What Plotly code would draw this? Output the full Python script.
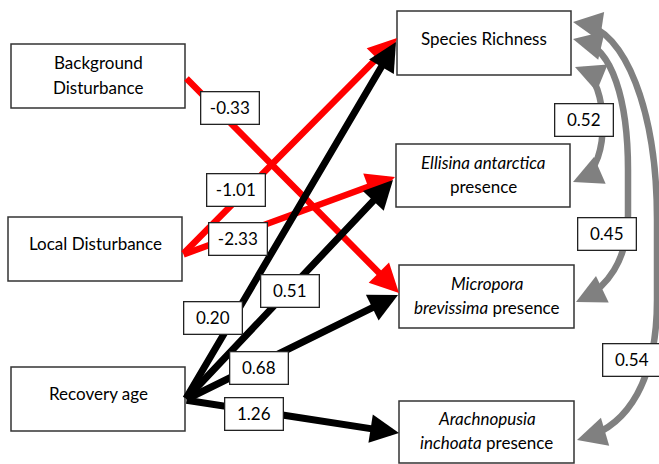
import math
import plotly.graph_objects as go

# ---------------- data ----------------
node_names = ["Background Disturbance", "Local Disturbance", "Recovery age",
              "Species Richness", "Ellisina", "Micropora", "Arachnopusia"]
node_text_lines = [
    ["Background", "Disturbance"],
    ["Local Disturbance"],
    ["Recovery age"],
    ["Species Richness"],
    ["<i>Ellisina antarctica</i>", "presence"],
    ["<i>Micropora</i>", "<i>brevissima</i> presence"],
    ["<i>Arachnopusia</i>", "<i>inchoata</i> presence"],
]
path_from = ["Background Disturbance", "Local Disturbance", "Local Disturbance",
             "Recovery age", "Recovery age", "Recovery age", "Recovery age"]
path_to = ["Micropora", "Species Richness", "Ellisina",
           "Species Richness", "Ellisina", "Micropora", "Arachnopusia"]
path_coef = [-0.33, -1.01, -2.33, 0.20, 0.51, 0.68, 1.26]
cov_from = ["Species Richness", "Species Richness", "Species Richness"]
cov_to = ["Ellisina", "Micropora", "Arachnopusia"]
cov_values = [0.52, 0.45, 0.54]

# ---------------- layout (pixel space) ----------------
W, H = 659, 464
node_box = {  # x0, y0, x1, y1
    "Background Disturbance": (11, 44, 185, 108),
    "Local Disturbance": (8, 217, 182, 281),
    "Recovery age": (11, 367, 185, 431),
    "Species Richness": (397, 11, 571, 75),
    "Ellisina": (396, 144, 570, 207),
    "Micropora": (399, 265, 574, 328),
    "Arachnopusia": (399, 401, 574, 463),
}
node_line_y = {
    "Background Disturbance": [62, 87],
    "Local Disturbance": [243],
    "Recovery age": [393],
    "Species Richness": [38],
    "Ellisina": [162, 186],
    "Micropora": [283, 307],
    "Arachnopusia": [418, 442],
}
# straight path geometry: start, tip, label centre
path_geom = [
    ((185, 77), (399, 293), (230, 108)),
    ((182, 255), (397, 38), (236, 190)),
    ((182, 255), (395, 177), (238, 239)),
    ((185, 400), (396, 42), (213, 318)),
    ((185, 400), (393, 180), (290, 291)),
    ((185, 400), (398, 295), (259, 368)),
    ((185, 400), (399, 433), (254, 414)),
]
# curved covariance geometry: start point + cubic segments, label centre
cov_geom = [
    ([(575, 67), (607, 80), (612, 165), (573, 182)], (584, 120)),
    ([(573, 39), (612, 48), (628, 100), (628, 170),
      (628, 185), (628, 200), (628, 215),
      (628, 262), (605, 288), (576, 302)], (607, 234)),
    ([(573, 22), (625, 30), (657, 110), (657, 220),
      (657, 250), (657, 275), (657, 300),
      (657, 380), (628, 425), (577, 440)], (632, 360)),
]

FONT = "Lato, 'Open Sans', sans-serif"
RED, BLACK, GREY = "#ff0000", "#000000", "#808080"

fig = go.Figure()
shapes, annotations = [], []

# node boxes + text
for name, lines in zip(node_names, node_text_lines):
    x0, y0, x1, y1 = node_box[name]
    shapes.append(dict(type="rect", xref="x", yref="y", x0=x0, y0=y0, x1=x1, y1=y1,
                       line=dict(color="#333333", width=1.5), fillcolor="white", layer="below"))
    for txt, ly in zip(lines, node_line_y[name]):
        annotations.append(dict(x=(x0 + x1) / 2, y=ly, xref="x", yref="y", text=txt,
                                showarrow=False, font=dict(family=FONT, size=17, color="black"),
                                xanchor="center", yanchor="middle"))

def unit(a, b):
    dx, dy = a[0] - b[0], a[1] - b[1]
    d = math.hypot(dx, dy)
    return dx / d, dy / d

# covariance curves
for pts, lab in cov_geom:
    p0, p1 = pts[0], pts[1]
    pe, pc = pts[-1], pts[-2]
    u0 = unit(p1, p0)
    ue = unit(pc, pe)
    s = (p0[0] + 9 * u0[0], p0[1] + 9 * u0[1])
    e = (pe[0] + 9 * ue[0], pe[1] + 9 * ue[1])
    allpts = pts[1:-1] + [e]
    path = f"M {s[0]:.1f},{s[1]:.1f}"
    for i in range(0, len(allpts), 3):
        a, b, c = allpts[i], allpts[i + 1], allpts[i + 2]
        path += f" C {a[0]:.1f},{a[1]:.1f} {b[0]:.1f},{b[1]:.1f} {c[0]:.1f},{c[1]:.1f}"
    shapes.append(dict(type="path", xref="x", yref="y", path=path,
                       line=dict(color=GREY, width=6.5), layer="below"))
    for tip, u in ((p0, u0), (pe, ue)):
        annotations.append(dict(x=tip[0], y=tip[1], ax=tip[0] + 22 * u[0], ay=tip[1] + 22 * u[1],
                                xref="x", yref="y", axref="x", ayref="y", text="",
                                showarrow=True, arrowhead=2, arrowsize=0.9, arrowwidth=6.5,
                                arrowcolor=GREY, standoff=0))

# straight paths
for coef, (st, tip, lab) in zip(path_coef, path_geom):
    col = RED if coef < 0 else BLACK
    annotations.append(dict(x=tip[0], y=tip[1], ax=st[0], ay=st[1],
                            xref="x", yref="y", axref="x", ayref="y", text="",
                            showarrow=True, arrowhead=2,
                            arrowsize=0.88 if coef < 0 else 0.82,
                            arrowwidth=6.5 if coef < 0 else 7,
                            arrowcolor=col, standoff=0))

def label(val, pos):
    return dict(x=pos[0], y=pos[1], xref="x", yref="y", text=f"{val:.2f}",
                showarrow=False, font=dict(family=FONT, size=17, color="black"),
                bgcolor="white", bordercolor="#222", borderwidth=1.3, borderpad=3,
                width=51, height=25, xanchor="center", yanchor="middle")

for coef, (st, tip, lab) in zip(path_coef, path_geom):
    annotations.append(label(coef, lab))
for val, (pts, lab) in zip(cov_values, cov_geom):
    annotations.append(label(val, lab))

fig.update_layout(
    width=W, height=H, margin=dict(l=0, r=0, t=0, b=0),
    paper_bgcolor="white", plot_bgcolor="white",
    xaxis=dict(range=[0, W], visible=False, fixedrange=True),
    yaxis=dict(range=[H, 0], visible=False, fixedrange=True),
    shapes=shapes, annotations=annotations, showlegend=False,
)
fig.write_html("out.html", config={"displayModeBar": False},
               post_script="document.body.style.margin='0';document.body.style.overflow='hidden';")
